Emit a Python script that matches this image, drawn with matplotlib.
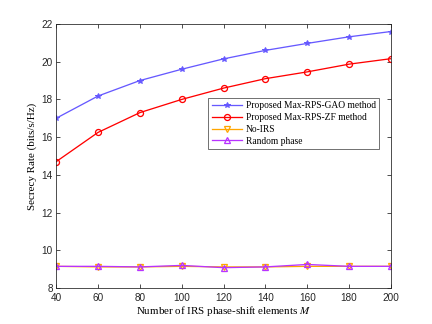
import numpy as np
import matplotlib
matplotlib.use('Agg')
import matplotlib.pyplot as plt

plt.rcParams['mathtext.fontset'] = 'stix'

## DATA
M = [40, 60, 80, 100, 120, 140, 160, 180, 200]
gao = [17.0, 18.18, 19.0, 19.6, 20.15, 20.6, 20.97, 21.32, 21.6]
zf = [14.7, 16.25, 17.3, 18.0, 18.6, 19.1, 19.46, 19.87, 20.16]
no_irs = [9.15, 9.12, 9.12, 9.15, 9.12, 9.12, 9.15, 9.15, 9.15]
rand_phase = [9.15, 9.15, 9.12, 9.2, 9.08, 9.12, 9.25, 9.15, 9.15]
labels = ['Proposed Max-RPS-GAO method', 'Proposed Max-RPS-ZF method',
          'No-IRS', 'Random phase']

## PLOT
fig = plt.figure(figsize=(6, 4.5), dpi=72)
ax = fig.add_axes([0.13, 0.111, 0.775, 0.815])

ax.plot(M, gao, '-*', color=(0.4, 0.35, 1.0), lw=1.3, ms=6, label=labels[0])
ax.plot(M, zf, '-o', color='red', lw=1.3, ms=6, mfc='none', mew=1.3, label=labels[1])
ax.plot(M, no_irs, '-v', color=(1.0, 0.65, 0.0), lw=1.3, ms=6, mfc='none', mew=1.3, label=labels[2])
ax.plot(M, rand_phase, '-^', color=(0.72, 0.2, 1.0), lw=1.3, ms=6, mfc='none', mew=1.3, label=labels[3])

ax.set_xlim(40, 200)
ax.set_ylim(8, 22)
ax.set_xticks(M)
ax.set_yticks(np.arange(8, 23, 2))
ax.tick_params(direction='in', top=True, right=True, labelsize=10, colors='#262626', length=4)
ax.tick_params(axis='x', pad=5)
for lab in ax.get_xticklabels() + ax.get_yticklabels():
    lab.set_fontfamily('Liberation Sans')
for s in ax.spines.values():
    s.set_color('#262626')
    s.set_linewidth(0.8)

ax.set_xlabel('Number of IRS phase-shift elements $\\mathit{M}$', family='Liberation Serif', fontsize=11, labelpad=1)
ax.set_ylabel('Secrecy Rate (bits/s/Hz)', family='Liberation Serif', fontsize=11)

leg = ax.legend(loc='upper right', bbox_to_anchor=(0.965, 0.72), fancybox=False,
                edgecolor='#262626', prop={'family': 'Liberation Serif', 'size': 9.5},
                handlelength=3.2, borderpad=0.35, labelspacing=0.3, handletextpad=0.4,
                borderaxespad=0)
leg.get_frame().set_linewidth(0.8)

fig.savefig('out.png', dpi=72)
